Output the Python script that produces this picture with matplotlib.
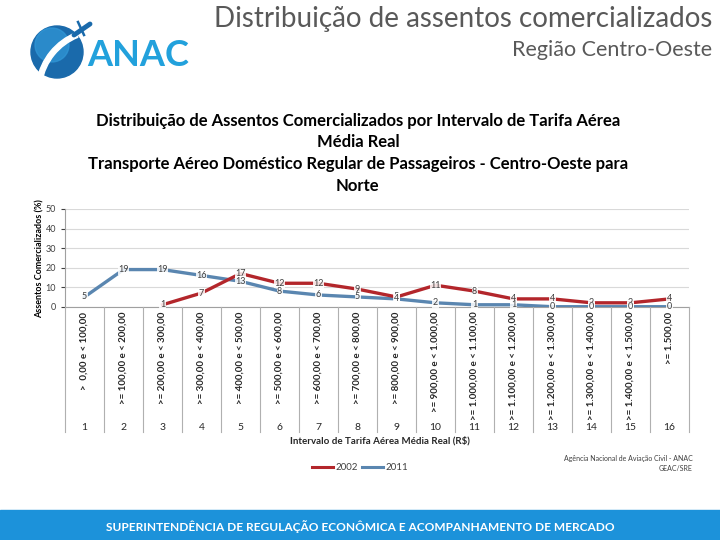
import numpy as np
import matplotlib
matplotlib.use("Agg")
import matplotlib.pyplot as plt
from matplotlib.patches import Rectangle, Circle, Wedge

plt.rcParams['font.family'] = ['Lato', 'DejaVu Sans']

categories = [">  0,00 e < 100,00", ">= 100,00 e < 200,00", ">= 200,00 e < 300,00",
              ">= 300,00 e < 400,00", ">= 400,00 e < 500,00", ">= 500,00 e < 600,00",
              ">= 600,00 e < 700,00", ">= 700,00 e < 800,00", ">= 800,00 e < 900,00",
              ">= 900,00 e < 1.000,00", ">= 1.000,00 e < 1.100,00", ">= 1.100,00 e < 1.200,00",
              ">= 1.200,00 e < 1.300,00", ">= 1.300,00 e < 1.400,00", ">= 1.400,00 e < 1.500,00",
              ">= 1.500,00"]
cat_numbers = list(range(1, 17))

# 2002 has no seats in the first two fare bands
x_2002 = list(range(3, 17))
vals_2002 = [1, 7, 17, 12, 12, 9, 5, 11, 8, 4, 4, 2, 2, 4]
x_2011 = list(range(1, 17))
vals_2011 = [5, 19, 19, 16, 13, 8, 6, 5, 4, 2, 1, 1, 0, 0, 0, 0]

RED = '#b3262b'
BLUE = '#5a86b0'

fig = plt.figure(figsize=(7.2, 5.4), dpi=100)

# ------------------------------------------------------------------
# header: logo (drawn in pixel coords of the top-left corner) + titles
# ------------------------------------------------------------------
lg = fig.add_axes([0, 0.8, 0.3, 0.2])
lg.set_xlim(0, 216)
lg.set_ylim(108, 0)
lg.axis('off')
globe = Circle((57, 52), 26, color='#1a6aab')
lg.add_patch(globe)
lg.add_patch(Circle((52, 45), 17, color='#3198d8', alpha=0.7))
swoosh = Wedge((100, 92), 64, 190, 248, width=5, color='white')
lg.add_patch(swoosh)
lg.plot([74, 90], [35, 24], color='#1a6aab', lw=3.5, solid_capstyle='round')
lg.plot([78, 84], [22, 35], color='#1a6aab', lw=1.8)
fig.text(87 / 720, 1 - 55 / 540, 'ANAC', color='#22a1dc', fontsize=26, fontweight='bold',
         ha='left', va='center')

fig.text(0.989, 0.965, 'Distribuição de assentos comercializados', ha='right', va='center',
         fontsize=20, color='#595959')
fig.text(0.989, 0.908, 'Região Centro-Oeste', ha='right', va='center',
         fontsize=15.5, color='#595959')

fig.text(0.497, 0.716, 'Distribuição de Assentos Comercializados por Intervalo de Tarifa Aérea\n'
         'Média Real\nTransporte Aéreo Doméstico Regular de Passageiros - Centro-Oeste para\nNorte',
         ha='center', va='center', fontsize=12, fontweight='bold', linespacing=1.45, color='black')

# ------------------------------------------------------------------
# chart
# ------------------------------------------------------------------
ax = fig.add_axes([0.0903, 0.432, 0.8667, 0.181])
ax.set_xlim(0.5, 16.5)
ax.set_ylim(0, 50)
ax.set_yticks(range(0, 51, 10))
ax.tick_params(axis='y', labelsize=6.5, length=3, colors='#404040')
ax.set_xticks([])
for s in ['top', 'right']:
    ax.spines[s].set_visible(False)
ax.spines['left'].set_color('#a0a0a0')
ax.spines['bottom'].set_color('#a0a0a0')
ax.grid(axis='y', color='#d9d9d9', lw=0.8)
ax.set_axisbelow(True)

ax.plot(x_2011, vals_2011, color=BLUE, lw=2.4, zorder=3)
ax.plot(x_2002, vals_2002, color=RED, lw=2.4, zorder=3)
for x, v in zip(x_2011, vals_2011):
    ax.text(x, v, str(v), ha='center', va='center', fontsize=6.5, color='#404040', zorder=5,
            bbox=dict(boxstyle='square,pad=0.05', fc='white', ec='none', alpha=0.85))
for x, v in zip(x_2002, vals_2002):
    ax.text(x, v, str(v), ha='center', va='center', fontsize=6.5, color='#404040', zorder=4,
            bbox=dict(boxstyle='square,pad=0.05', fc='white', ec='none', alpha=0.85))

fig.text(0.055, 0.522, 'Assentos Comercializados (%)', rotation=90, ha='center', va='center',
         fontsize=6.5, fontweight='bold')

# category table under the axis
to_fig = ax.transData + fig.transFigure.inverted()
x0_fig = to_fig.transform((0.5, 0))[0]
x1_fig = to_fig.transform((1.5, 0))[0]
step = x1_fig - x0_fig
for i in range(len(categories) + 1):
    xf = x0_fig + i * step
    fig.add_artist(plt.Line2D([xf, xf], [0.432, 0.2], color='#b0b0b0', lw=0.8))
for i, (lab, n) in enumerate(zip(categories, cat_numbers)):
    xc = x0_fig + (i + 0.5) * step
    fig.text(xc, 0.423, lab, rotation=90, ha='center', va='top', fontsize=7,
             fontweight='bold', color='#262626')
    fig.text(xc, 0.209, str(n), ha='center', va='center', fontsize=7.5, color='#262626')

fig.text(0.403, 0.184, 'Intervalo de Tarifa Aérea Média Real (R$)', ha='left', va='center',
         fontsize=7, fontweight='bold', color='#262626')

# legend
fig.add_artist(plt.Line2D([0.434, 0.463], [0.135, 0.135], color=RED, lw=2.2))
fig.text(0.466, 0.135, '2002', ha='left', va='center', fontsize=7, color='#404040')
fig.add_artist(plt.Line2D([0.503, 0.532], [0.135, 0.135], color=BLUE, lw=2.2))
fig.text(0.535, 0.135, '2011', ha='left', va='center', fontsize=7, color='#404040')

fig.text(0.962, 0.142, 'Agência Nacional de Aviação Civil - ANAC\nGEAC/SRE', ha='right', va='center',
         fontsize=5, color='#404040', multialignment='right', linespacing=1.4)

# ------------------------------------------------------------------
# footer band
# ------------------------------------------------------------------
fig.add_artist(Rectangle((0, 0), 1, 0.056, transform=fig.transFigure, color='#1c92da', zorder=0))
fig.text(0.5, 0.025, 'SUPERINTENDÊNCIA DE REGULAÇÃO ECONÔMICA E ACOMPANHAMENTO DE MERCADO',
         ha='center', va='center', fontsize=8.6, fontweight='bold', color='white')

fig.savefig('out.png', dpi=100)
